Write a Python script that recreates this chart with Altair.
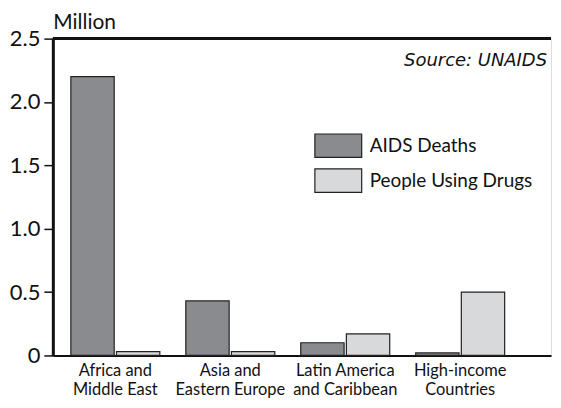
import altair as alt
import pandas as pd

regions = ["Africa and\nMiddle East", "Asia and\nEastern Europe", "Latin America\nand Caribbean", "High-income\nCountries"]
series = ["AIDS Deaths", "People Using Drugs"]
aids_deaths = [2.2, 0.43, 0.1, 0.02]
drug_users = [0.03, 0.03, 0.17, 0.5]
y_ticks = [0, 0.5, 1.0, 1.5, 2.0, 2.5]
colors = ["#8a8b8e", "#d8d9db"]

rows = []
for r, a, d in zip(regions, aids_deaths, drug_users):
    rows.append({"region": r, "series": series[0], "value": a})
    rows.append({"region": r, "series": series[1], "value": d})
df = pd.DataFrame(rows)

FONT = "Lato"
W, H = 500, 318

bars = alt.Chart(df).mark_bar(stroke="#222", strokeWidth=1.2).encode(
    x=alt.X("region:N", sort=regions,
            scale=alt.Scale(paddingInner=0.226, paddingOuter=0.28, align=0.28),
            axis=alt.Axis(title=None, labelExpr="split(datum.label, '\\n')", ticks=False,
                          labelAngle=0, labelFontSize=16.5, labelFont=FONT, labelColor="#111",
                          labelPadding=7, labelLineHeight=19, domainColor="#111", domainWidth=2)),
    xOffset=alt.XOffset("series:N", sort=series, scale=alt.Scale(paddingInner=0.05)),
    y=alt.Y("value:Q", scale=alt.Scale(domain=[0, 2.5], nice=False),
            axis=alt.Axis(values=y_ticks, title="Million", titleAngle=0, titleAlign="left",
                          titleBaseline="alphabetic", titleX=0, titleY=-10, titleFont=FONT,
                          titleFontSize=21, titleFontWeight="normal", titleColor="#111",
                          labelExpr="datum.value == 0 ? '0' : format(datum.value, '.1f')",
                          labelFontSize=22, labelFont=FONT, labelColor="#111", labelPadding=4,
                          tickSize=9, tickColor="#111", tickWidth=1.5, grid=False,
                          domainColor="#111", domainWidth=3)),
    color=alt.Color("series:N", sort=series, scale=alt.Scale(domain=series, range=colors),
                    legend=alt.Legend(title=None, orient="none", legendX=274, legendY=95,
                                      symbolType="M-2,-1L2,-1L2,1L-2,1Z", symbolSize=552,
                                      symbolStrokeColor="#222", symbolStrokeWidth=1.2,
                                      symbolOpacity=1, labelOffset=19, labelFontSize=19,
                                      labelLimit=400, labelFont=FONT, labelColor="#111",
                                      rowPadding=6)),
)

top_df = pd.DataFrame({"y": [2.5]})
top_line = alt.Chart(top_df).mark_rule(color="#111", strokeWidth=3).encode(y="y:Q")

src_df = pd.DataFrame({"t": ["Source: UNAIDS"]})
source = alt.Chart(src_df).mark_text(align="right", baseline="middle", font="DejaVu Sans",
                                      fontSize=18, fontStyle="italic", color="#111").encode(
    text="t:N", x=alt.value(W - 4), y=alt.value(22))

chart = alt.layer(bars, top_line, source).properties(
    width=W, height=H, padding={"left": 1, "top": 3, "right": 0, "bottom": 0}
).configure_view(stroke=None).configure(background="white")

chart.save("out.html", embed_options={"renderer": "svg", "actions": False})
